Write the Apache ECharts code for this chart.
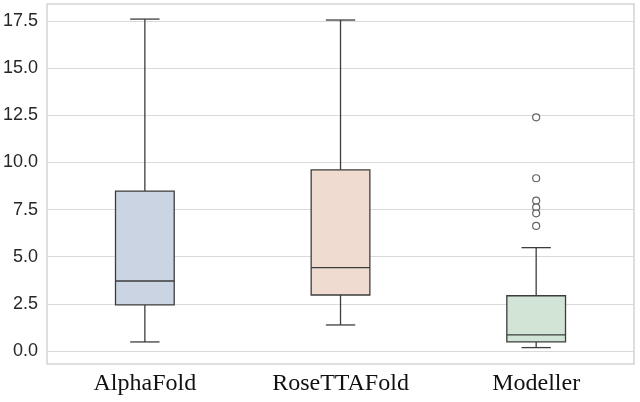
<!DOCTYPE html>
<html>
<head>
<meta charset="utf-8">
<script src="https://cdn.jsdelivr.net/npm/echarts@6/dist/echarts.min.js"></script>
<style>
html,body{margin:0;padding:0;background:#fff;}
#chart{width:640px;height:402px;}
</style>
</head>
<body>
<div id="chart"></div>
<script>
const categories = ['AlphaFold', 'RoseTTAFold', 'Modeller'];
const boxMin = [0.48, 1.38, 0.18];
const boxQ1 = [2.44, 2.97, 0.48];
const boxMedian = [3.71, 4.42, 0.85];
const boxQ3 = [8.48, 9.60, 2.93];
const boxMax = [17.60, 17.55, 5.48];
const outlierCategory = ['Modeller', 'Modeller', 'Modeller', 'Modeller', 'Modeller', 'Modeller'];
const outlierValues = [12.39, 9.16, 7.97, 7.62, 7.30, 6.63];
const boxColors = ['#cad4e3', '#efdbcf', '#d2e4d5'];
const yTickValues = [0, 2.5, 5, 7.5, 10, 12.5, 15, 17.5];

const boxData = categories.map((c, i) => [i, boxMin[i], boxQ1[i], boxMedian[i], boxQ3[i], boxMax[i]]);
const outlierData = outlierValues.map((v, i) => [outlierCategory[i], v]);

const stroke = '#3d3d3d';
function renderBox(params, api) {
  const idx = api.value(0);
  const x = api.coord([idx, 0])[0];
  const bw = api.size([1, 0])[0] * 0.30;
  const cw = bw * 0.5;
  const yMin = api.coord([idx, api.value(1)])[1];
  const yQ1 = api.coord([idx, api.value(2)])[1];
  const yMed = api.coord([idx, api.value(3)])[1];
  const yQ3 = api.coord([idx, api.value(4)])[1];
  const yMax = api.coord([idx, api.value(5)])[1];
  const ls = { stroke: stroke, lineWidth: 1.3, fill: null };
  return {
    type: 'group',
    children: [
      { type: 'line', shape: { x1: x, y1: yMax, x2: x, y2: yQ3 }, style: ls },
      { type: 'line', shape: { x1: x, y1: yQ1, x2: x, y2: yMin }, style: ls },
      { type: 'line', shape: { x1: x - cw / 2, y1: yMax, x2: x + cw / 2, y2: yMax }, style: ls },
      { type: 'line', shape: { x1: x - cw / 2, y1: yMin, x2: x + cw / 2, y2: yMin }, style: ls },
      { type: 'rect', shape: { x: x - bw / 2, y: yQ3, width: bw, height: yQ1 - yQ3 },
        style: { fill: boxColors[idx], stroke: stroke, lineWidth: 1.3 } },
      { type: 'line', shape: { x1: x - bw / 2, y1: yMed, x2: x + bw / 2, y2: yMed }, style: ls }
    ]
  };
}

const chart = echarts.init(document.getElementById('chart'), null, { renderer: 'canvas' });
chart.setOption({
  animation: false,
  backgroundColor: '#ffffff',
  grid: { left: 47, right: 6, top: 4, bottom: 38, show: true, borderColor: '#d4d4d4', borderWidth: 1.5, backgroundColor: 'transparent' },
  xAxis: {
    type: 'category',
    data: categories,
    boundaryGap: true,
    axisLine: { show: false },
    axisTick: { show: false },
    splitLine: { show: false },
    axisLabel: { fontFamily: 'Liberation Serif', fontSize: 24, color: '#111', margin: 8 }
  },
  yAxis: {
    type: 'value',
    min: -0.69,
    max: 18.4,
    axisLine: { show: false },
    axisTick: { show: false, customValues: yTickValues },
    axisLabel: {
      customValues: yTickValues,
      fontFamily: 'Liberation Sans', fontSize: 18, color: '#262626', margin: 9,
      formatter: v => v.toFixed(1)
    },
    splitLine: { show: true, customValues: yTickValues, lineStyle: { color: '#dadada', width: 1.2 } }
  },
  series: [
    { type: 'custom', renderItem: renderBox, data: boxData, encode: { x: 0, y: [1, 2, 3, 4, 5] }, z: 3 },
    { type: 'scatter', data: outlierData, symbol: 'circle', symbolSize: 7,
      itemStyle: { color: '#ffffff', borderColor: stroke, borderWidth: 1.2 }, z: 4 }
  ]
});
</script>
</body>
</html>
